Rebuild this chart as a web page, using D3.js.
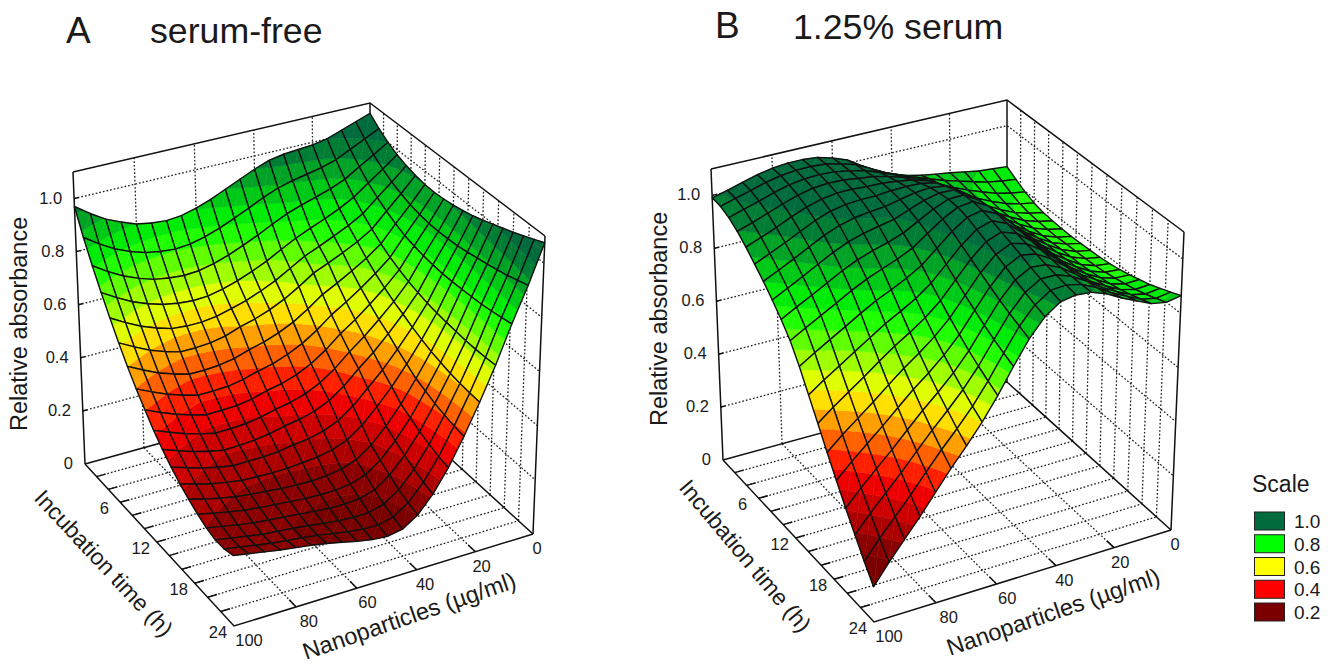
<!DOCTYPE html>
<html>
<head>
<meta charset="utf-8">
<script src="https://cdnjs.cloudflare.com/ajax/libs/d3/7.8.5/d3.min.js"></script>
<style>body{margin:0;background:#fff}text{font-family:"Liberation Sans",Arial,sans-serif;fill:#1a1a1a}</style>
</head>
<body>
<script>
// relative absorbance, one row per time step (0 to 24 h), one column per dose step (0 to 100)
const surfaceA=[
[1.060,1.040,1.020,1.000,.990,.985,.980,.970,.949,.924,.899,.874,.854,.839,.834,.839,.849,.870,.895,.930,.970],
[1.027,1.000,.973,.946,.929,.917,.906,.891,.868,.841,.816,.792,.773,.759,.754,.759,.769,.787,.811,.844,.882],
[1.001,.966,.933,.898,.875,.857,.840,.820,.794,.766,.741,.718,.700,.687,.683,.688,.697,.715,.738,.769,.805],
[.980,.938,.898,.857,.827,.802,.779,.755,.726,.696,.671,.649,.632,.620,.617,.622,.632,.649,.671,.701,.734],
[.966,.916,.870,.822,.790,.764,.739,.715,.683,.651,.626,.604,.588,.573,.566,.566,.571,.588,.609,.637,.669],
[.956,.899,.846,.791,.757,.729,.704,.680,.643,.610,.584,.564,.549,.529,.518,.514,.514,.530,.550,.577,.607],
[.949,.885,.826,.764,.723,.689,.657,.628,.588,.553,.527,.507,.493,.475,.465,.461,.461,.477,.496,.522,.550],
[.947,.876,.810,.741,.694,.653,.615,.581,.538,.502,.476,.456,.443,.427,.417,.414,.414,.429,.448,.472,.498],
[.950,.871,.799,.723,.669,.622,.578,.540,.494,.457,.430,.412,.401,.385,.376,.374,.373,.387,.405,.427,.452],
[.955,.869,.791,.708,.647,.594,.545,.502,.454,.416,.390,.373,.363,.349,.340,.337,.336,.349,.365,.386,.408],
[.963,.870,.786,.696,.629,.570,.515,.469,.419,.380,.356,.341,.332,.319,.311,.307,.305,.317,.331,.350,.370],
[.972,.872,.782,.686,.610,.542,.480,.427,.376,.337,.314,.301,.294,.285,.281,.280,.280,.290,.303,.320,.338],
[.984,.878,.782,.679,.594,.518,.448,.389,.336,.297,.276,.265,.260,.255,.254,.256,.258,.267,.278,.293,.309],
[.998,.885,.783,.674,.580,.494,.415,.349,.294,.256,.237,.228,.225,.226,.229,.235,.240,.247,.258,.271,.286],
[1.012,.892,.785,.670,.570,.479,.395,.326,.270,.232,.214,.208,.207,.209,.214,.219,.224,.231,.241,.252,.265],
[1.026,.900,.787,.666,.560,.464,.376,.304,.247,.209,.193,.189,.190,.195,.201,.207,.212,.218,.227,.238,.249],
[1.042,.909,.792,.665,.554,.453,.360,.285,.226,.190,.175,.174,.177,.184,.192,.199,.204,.210,.219,.229,.239],
[1.058,.921,.798,.666,.550,.444,.348,.270,.211,.175,.162,.164,.170,.180,.190,.198,.204,.211,.220,.230,.240],
[1.075,.932,.805,.668,.548,.438,.339,.259,.199,.164,.154,.159,.169,.182,.194,.204,.212,.220,.230,.240,.250]
]
const surfaceB=[
[.840,.845,.850,.860,.870,.878,.887,.900,.918,.941,.977,1.013,1.034,1.050,1.055,1.055,1.049,1.038,1.022,1.006,.991],
[.818,.825,.834,.849,.865,.881,.900,.921,.943,.965,.994,1.023,1.039,1.052,1.056,1.055,1.048,1.036,1.019,1.003,.987],
[.797,.806,.818,.837,.858,.882,.909,.939,.965,.984,1.007,1.028,1.040,1.050,1.053,1.050,1.041,1.026,1.007,.990,.973],
[.782,.792,.807,.829,.855,.885,.920,.956,.985,1.003,1.019,1.033,1.039,1.047,1.048,1.043,1.030,1.011,.990,.969,.950],
[.773,.784,.800,.825,.855,.890,.932,.974,1.005,1.020,1.029,1.035,1.036,1.040,1.039,1.030,1.014,.991,.965,.942,.920],
[.769,.780,.798,.825,.857,.898,.945,.991,1.024,1.035,1.037,1.035,1.029,1.029,1.024,1.013,.992,.965,.937,.911,.886],
[.767,.778,.797,.826,.861,.906,.957,1.007,1.040,1.047,1.041,1.030,1.017,1.011,1.003,.988,.965,.936,.906,.878,.851],
[.766,.777,.797,.828,.865,.913,.968,1.020,1.053,1.055,1.041,1.020,.998,.986,.973,.956,.931,.901,.870,.841,.812],
[.768,.779,.799,.831,.870,.920,.977,1.030,1.062,1.060,1.037,1.006,.975,.955,.938,.918,.892,.861,.830,.801,.770],
[.770,.780,.801,.834,.873,.925,.983,1.036,1.066,1.058,1.028,.988,.948,.921,.899,.876,.848,.816,.785,.754,.722],
[.773,.782,.802,.835,.874,.926,.984,1.034,1.061,1.049,1.011,.962,.914,.880,.852,.826,.794,.760,.727,.694,.659],
[.778,.784,.803,.836,.874,.925,.980,1.027,1.051,1.033,.989,.932,.877,.835,.802,.771,.735,.698,.661,.625,.586],
[.785,.789,.807,.838,.875,.924,.976,1.019,1.038,1.017,.967,.904,.842,.794,.755,.719,.679,.637,.597,.557,.514],
[.794,.796,.812,.842,.878,.924,.972,1.010,1.025,.999,.945,.877,.809,.755,.710,.669,.624,.577,.533,.489,.441],
[.806,.804,.819,.849,.882,.926,.969,1.001,1.011,.982,.924,.852,.778,.718,.668,.623,.572,.521,.473,.424,.372],
[.817,.813,.827,.855,.886,.927,.965,.991,.996,.964,.904,.827,.749,.684,.629,.578,.523,.467,.415,.362,.305],
[.832,.826,.838,.865,.895,.932,.964,.983,.983,.948,.886,.806,.724,.654,.594,.538,.478,.417,.360,.304,.242],
[.848,.840,.851,.877,.904,.938,.964,.976,.971,.933,.870,.787,.701,.625,.560,.500,.435,.369,.308,.247,.181],
[.865,.855,.865,.890,.915,.945,.965,.970,.960,.920,.855,.770,.680,.600,.530,.465,.395,.325,.260,.195,.125]
]

const doseTicks=[0,20,40,60,80,100]
const timeTicks=[2,4,6,8,10,12,14,16,18,20,22,24]
const timeLabels=[6,12,18,24]
const zTicks=[0,.2,.4,.6,.8,1]
const scaleLabels=['1.0','0.8','0.6','0.4','0.2']
const scaleValues=[1,.8,.6,.4,.2]

const svg=d3.select('body').append('svg').attr('width',1334).attr('height',666)

const color=d3.scaleLinear().domain([.2,.4,.6,.8,1]).range(['#7a0000','#ff0000','#ffff00','#00ff00','#006b3c']).clamp(true)
const bandStep=.05

function squareToQuad(q){
  const [[x0,y0],[x1,y1],[x2,y2],[x3,y3]]=q
  const dx1=x1-x2,dx2=x3-x2,sx=x0-x1+x2-x3,dy1=y1-y2,dy2=y3-y2,sy=y0-y1+y2-y3
  const den=dx1*dy2-dx2*dy1
  const g=(sx*dy2-dx2*sy)/den,h=(dx1*sy-sx*dy1)/den
  const a=x1-x0+g*x1,b=x3-x0+h*x3,d=y1-y0+g*y1,e=y3-y0+h*y3
  return (u,v)=>{const w=g*u+h*v+1;return [(a*u+b*v+x0)/w,(d*u+e*v+y0)/w]}
}

function clipBand(poly,lo,hi){
  function cut(p,inside,level){
    const out=[]
    p.forEach((c,k)=>{
      const n=p[(k+1)%p.length]
      if(inside(c[2]))out.push(c)
      if(inside(c[2])!==inside(n[2])){
        const s=(level-c[2])/(n[2]-c[2])
        out.push([c[0]+s*(n[0]-c[0]),c[1]+s*(n[1]-c[1]),level])
      }
    })
    return out
  }
  let r=cut(poly,z=>z>=lo,lo)
  if(r.length)r=cut(r,z=>z<=hi,hi)
  return r
}

function drawPanel(g,floor,top,values){
  const uScale=d3.scaleLinear().domain([0,100]).range([0,1])
  const vScale=d3.scaleLinear().domain([0,24]).range([0,1])
  const wScale=d3.scaleLinear().domain([0,1.1]).range([0,1])
  const fh=squareToQuad(floor),th=squareToQuad(top)
  const P=(dose,t,z)=>{
    const u=uScale(dose),v=vScale(t),w=wScale(z)
    const a=fh(u,v),b=th(u,v)
    return [a[0]+w*(b[0]-a[0]),a[1]+w*(b[1]-a[1])]
  }
  const line=d3.line()
  const dotted=pts=>g.append('path').attr('d',line(pts)).attr('fill','none').attr('stroke','#222').attr('stroke-width',1.3).attr('stroke-dasharray','1.7 2')
  const solid=pts=>g.append('path').attr('d',line(pts)).attr('fill','none').attr('stroke','#111').attr('stroke-width',1.5)

  // wall and floor grid
  doseTicks.slice(1,-1).forEach(d=>{
    dotted([P(d,0,0),P(d,0,1.1)])
    dotted([P(d,0,0),P(d,24,0)])
  })
  timeTicks.slice(0,-1).forEach(t=>{
    dotted([P(0,t,0),P(0,t,1.1)])
    dotted([P(100,t,0),P(0,t,0)])
  })
  zTicks.slice(1).forEach(z=>{
    dotted([P(100,0,z),P(0,0,z),P(0,24,z)])
  })
  // box
  solid([P(100,0,1.1),P(0,0,1.1),P(0,24,1.1)])
  solid([P(100,0,0),P(100,0,1.1)])
  solid([P(0,0,0),P(0,0,1.1)])
  solid([P(0,24,0),P(0,24,1.1)])
  solid([P(100,0,0),P(100,24,0),P(0,24,0)])
  solid([P(100,0,0),P(0,0,0),P(0,24,0)])
  // tick stubs
  doseTicks.slice(1,-1).forEach(d=>solid([P(d,24,0),P(d,23,0)]))
  timeTicks.slice(0,-1).forEach(t=>solid([P(100,t,0),P(97,t,0)]))
  zTicks.slice(1).forEach(z=>solid([P(100,0,z),P(98.5,0,z)]))

  // surface, back corner to front corner
  const rows=values.length-1,cols=values[0].length-1
  const dose=d3.scaleLinear().domain([0,cols]).range([0,100])
  const time=d3.scaleLinear().domain([0,rows]).range([0,24])
  const surf=g.append('g')
  const cells=[]
  for(let j=0;j<rows;j++)for(let i=0;i<cols;i++)cells.push([i,j])
  cells.sort((a,b)=>(a[0]+a[1])-(b[0]+b[1]))
  cells.forEach(([i,j])=>{
    const pt=(a,b)=>{const z=values[b][a];return [...P(dose(a),time(b),z),z]}
    const A=pt(i,j),B=pt(i+1,j),C=pt(i+1,j+1),D=pt(i,j+1)
    ;[[A,B,C],[A,C,D]].forEach(tri=>{
      const zs=tri.map(p=>p[2])
      const lo=Math.floor(d3.min(zs)/bandStep),hi=Math.ceil(d3.max(zs)/bandStep)
      for(let k=lo;k<hi;k++){
        const piece=clipBand(tri,k*bandStep,(k+1)*bandStep)
        if(piece.length<3)continue
        const c=color((k+.5)*bandStep)
        surf.append('path').attr('d',line(piece.map(p=>[p[0],p[1]]))+'Z').attr('fill',c).attr('stroke',c).attr('stroke-width',.5)
      }
    })
    surf.append('path').attr('d',line([A,B,C,D].map(p=>[p[0],p[1]]))+'Z').attr('fill','none').attr('stroke','#111').attr('stroke-width',1.4).attr('stroke-linejoin','round')
  })

  // tick labels
  zTicks.forEach(z=>{
    const p=P(100,0,z)
    g.append('text').attr('x',p[0]-12).attr('y',p[1]+5).attr('text-anchor','end').attr('font-size',16.5).text(z===0?'0':d3.format('.1f')(z))
  })
  timeLabels.forEach(t=>{
    const p=P(100,t,0)
    g.append('text').attr('x',p[0]-16).attr('y',p[1]+12).attr('text-anchor','middle').attr('font-size',16.5).text(t)
  })
  doseTicks.forEach(d=>{
    const p=P(d,24,0)
    g.append('text').attr('x',p[0]+4+d*.11).attr('y',p[1]+20).attr('text-anchor','middle').attr('font-size',16.5).text(d)
  })
}

const floorA=[[370,385],[85,464],[234,626],[533,534]]
const topA=[[370,103],[73,172],[230,316],[545,236]]
const floorB=[[1007,382],[723,460],[874,622],[1171,530]]
const topB=[[1007,100],[711,169],[870,312],[1184,232]]
drawPanel(svg.append('g'),floorA,topA,surfaceA)
drawPanel(svg.append('g'),floorB,topB,surfaceB)

const label=(x,y,size,txt,rot)=>svg.append('text').attr('transform',`translate(${x},${y}) rotate(${rot||0})`).attr('font-size',size).text(txt)
label(66,43,37,'A')
label(150,43,35.7,'serum-free')
label(715,38,37,'B')
label(793,39,35.7,'1.25% serum')
label(27,431,23.5,'Relative absorbance',-90)
label(667,426,23.5,'Relative absorbance',-90)
label(33,499,23,'Incubation time (h)',47)
label(678,488,23,'Incubation time (h)',50)
label(306,660,23.5,'Nanoparticles (\u00b5g/ml)',-19)
label(950,656,23.5,'Nanoparticles (\u00b5g/ml)',-19)
label(1252,492,23,'Scale')
scaleValues.forEach((v,k)=>{
  const y=d3.scaleLinear().domain([0,4]).range([512,603])(k)
  svg.append('rect').attr('x',1254.5).attr('y',y).attr('width',30).attr('height',18).attr('fill',color(v)).attr('stroke','#222').attr('stroke-width',1)
  label(1294,y+16,19,scaleLabels[k])
})
</script>
</body>
</html>
